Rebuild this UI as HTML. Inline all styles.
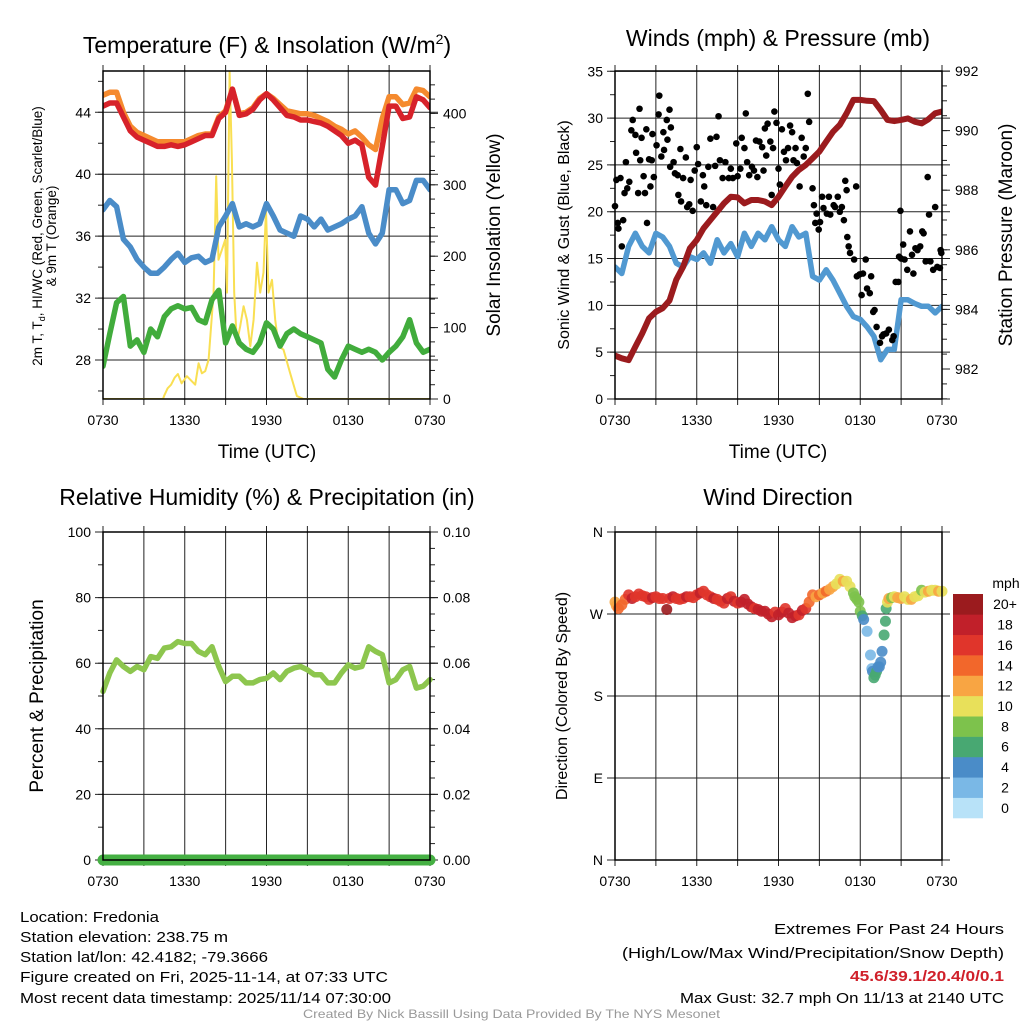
<!DOCTYPE html>
<html><head><meta charset="utf-8"><style>
html,body{margin:0;padding:0;background:#fff;}
svg{display:block;font-family:"Liberation Sans",sans-serif;}
</style></head><body>
<svg id="chart" width="1024" height="1024" viewBox="0 0 1024 1024" xmlns="http://www.w3.org/2000/svg">
<defs>
<clipPath id="c1"><rect x="103" y="71" width="327" height="328"/></clipPath>
<clipPath id="c2"><rect x="615" y="71" width="327" height="328"/></clipPath>
</defs>
<rect width="1024" height="1024" fill="#fff"/>
<g id="p1"></g>
<g id="p2"></g>
<g id="p3"></g>
<g id="p4"></g>

<text x="267" y="53" font-size="23" text-anchor="middle">Temperature (F) &amp; Insolation (W/m<tspan dy="-9" font-size="14">2</tspan><tspan dy="9">)</tspan></text>
<text x="778" y="46" font-size="23" text-anchor="middle">Winds (mph) &amp; Pressure (mb)</text>
<text x="267" y="505" font-size="23" text-anchor="middle">Relative Humidity (%) &amp; Precipitation (in)</text>
<text x="778" y="505" font-size="23" text-anchor="middle">Wind Direction</text>

<text x="267" y="458" font-size="19" text-anchor="middle">Time (UTC)</text>
<text x="778" y="458" font-size="19" text-anchor="middle">Time (UTC)</text>

<g transform="translate(42,236) rotate(-90)">
<text x="0" y="0" font-size="13.5" text-anchor="middle">2m T, T<tspan dy="3" font-size="9">d</tspan><tspan dy="-3">, HI/WC (Red, Green, Scarlet/Blue)</tspan></text>
<text x="0" y="14" font-size="13.5" text-anchor="middle">&amp; 9m T (Orange)</text>
</g>
<text transform="translate(500,235) rotate(-90)" font-size="19" text-anchor="middle">Solar Insolation (Yellow)</text>
<text transform="translate(569,235) rotate(-90)" font-size="16" text-anchor="middle">Sonic Wind &amp; Gust (Blue, Black)</text>
<text transform="translate(1012,235) rotate(-90)" font-size="19" text-anchor="middle">Station Pressure (Maroon)</text>
<text transform="translate(43,696) rotate(-90)" font-size="19" text-anchor="middle">Percent &amp; Precipitation</text>
<text transform="translate(567,696) rotate(-90)" font-size="16" text-anchor="middle">Direction (Colored By Speed)</text>

<g font-size="15">
<text x="20" y="922" textLength="139" lengthAdjust="spacingAndGlyphs">Location: Fredonia</text>
<text x="20" y="942" textLength="208" lengthAdjust="spacingAndGlyphs">Station elevation: 238.75 m</text>
<text x="20" y="962" textLength="248" lengthAdjust="spacingAndGlyphs">Station lat/lon: 42.4182; -79.3666</text>
<text x="20" y="982" textLength="368" lengthAdjust="spacingAndGlyphs">Figure created on Fri, 2025-11-14, at 07:33 UTC</text>
<text x="20" y="1003" textLength="371" lengthAdjust="spacingAndGlyphs">Most recent data timestamp: 2025/11/14 07:30:00</text>
</g>
<g font-size="15">
<text x="774" y="934" textLength="230" lengthAdjust="spacingAndGlyphs">Extremes For Past 24 Hours</text>
<text x="622" y="958" textLength="382" lengthAdjust="spacingAndGlyphs">(High/Low/Max Wind/Precipitation/Snow Depth)</text>
<text x="850" y="981" textLength="154" lengthAdjust="spacingAndGlyphs" fill="#d0202a" font-weight="bold">45.6/39.1/20.4/0/0.1</text>
<text x="680" y="1003" textLength="324" lengthAdjust="spacingAndGlyphs">Max Gust: 32.7 mph On 11/13 at 2140 UTC</text>
</g>
<text x="303" y="1018" font-size="12" fill="#999" textLength="417" lengthAdjust="spacingAndGlyphs">Created By Nick Bassill Using Data Provided By The NYS Mesonet</text>
</svg>
<script>
// ---------- data (hours since 0730 UTC, 30-minute samples) ----------
const xTickLabels = ["0730","1330","1930","0130","0730"];
const tempRed = [44.4,44.6,44.6,43.7,42.8,42.4,42.2,42.0,41.8,41.8,41.9,41.8,41.9,42.1,42.3,42.5,42.5,43.6,44.0,45.5,43.8,43.9,44.2,44.8,45.2,44.8,44.3,43.8,43.7,43.5,43.5,43.4,43.3,43.1,42.8,42.5,42.0,42.2,41.9,39.8,39.3,41.8,44.4,44.4,43.6,43.7,45.0,44.8,44.3];
const temp9m = [45.1,45.3,45.3,44.0,43.1,42.7,42.5,42.3,42.1,42.1,42.1,42.1,42.1,42.3,42.5,42.6,42.6,43.7,44.1,45.5,43.9,44.0,44.3,44.9,45.2,44.9,44.5,44.1,44.0,43.9,43.9,43.8,43.6,43.4,43.1,42.9,42.6,42.8,42.4,41.9,41.6,43.6,45.0,45.0,44.5,44.6,45.5,45.4,45.0];
const windChill = [37.7,38.3,37.9,35.8,35.3,34.5,34.0,33.6,33.6,34.0,34.5,34.9,34.3,34.6,34.7,34.3,34.5,36.6,37.3,38.1,36.6,36.8,36.6,36.8,38.1,37.3,36.4,36.2,36.0,37.3,37.1,36.6,37.1,36.4,36.6,36.8,37.1,37.3,37.9,36.2,35.5,36.2,39.0,39.0,38.1,38.3,39.6,39.6,39.0];
const dewPoint = [27.6,29.7,31.7,32.1,28.9,29.3,28.5,30.0,29.5,30.8,31.3,31.5,31.3,31.4,30.6,30.4,31.9,32.5,29.1,30.2,29.1,28.7,28.5,29.1,30.4,30.0,28.9,29.7,30.0,29.7,29.5,29.3,29.1,27.4,26.9,28.0,28.9,28.7,28.5,28.7,28.5,28.0,28.5,28.9,29.5,30.6,29.1,28.5,28.7];
const solarHours = [0,4.4,4.5,4.74,5.0,5.26,5.5,5.77,6.16,6.77,7.02,7.26,7.5,7.75,8.12,8.31,8.48,8.73,8.97,9.1,9.29,9.46,9.63,9.83,10.07,10.32,10.56,10.81,11.05,11.3,11.54,11.78,11.96,12.15,12.4,12.64,12.89,13.25,13.74,14.23,14.72,24];
const solarValues = [0,0,5,15,20,30,35,22,32,20,50,36,39,55,149,312,195,209,223,149,459,335,149,79,102,130,111,74,111,191,149,177,265,149,167,111,74,69,36,4,0,0];
const pressure = [982.45,982.36,982.3,982.75,983.2,983.7,983.92,984.04,984.3,985.0,985.43,986.05,986.33,986.72,987.0,987.28,987.56,987.78,987.76,987.56,987.67,987.67,987.62,987.5,987.78,988.12,988.45,988.68,988.85,989.07,989.3,989.63,989.96,990.19,990.58,991.03,991.03,991.0,990.99,990.69,990.36,990.32,990.36,990.41,990.3,990.24,990.38,990.58,990.64];
const windSpeed = [14.1,13.4,16.3,17.7,16.3,15.6,17.7,17.3,16.3,14.5,14.1,15.2,14.9,15.6,14.5,17.0,15.6,16.6,15.2,17.7,16.3,17.7,17.0,18.4,17.0,16.3,18.4,17.3,17.7,13.1,12.7,13.8,12.7,11.3,9.9,8.8,8.5,7.7,6.7,4.2,5.3,5.3,10.6,10.6,10.2,9.9,9.9,9.2,9.9];
const gustHours = [0,0.1,0.2,0.25,0.4,0.5,0.6,0.7,0.8,0.9,1.05,1.3,1.2,1.5,1.55,1.7,1.8,1.85,1.95,2.1,2.2,2.3,2.35,2.5,2.6,2.7,2.75,2.85,3.05,3.2,3.25,3.4,3.55,3.6,3.8,3.85,4.0,4.05,4.1,4.3,4.4,4.6,4.65,4.8,4.85,5.0,5.2,5.3,5.45,5.55,5.7,5.85,6.0,6.1,6.3,6.45,6.55,6.7,6.85,7.0,7.2,7.35,7.45,7.6,7.7,7.9,8.1,8.35,8.5,8.65,8.9,9.0,9.2,9.3,9.5,9.6,9.7,9.85,10.05,10.2,10.35,10.45,10.6,10.8,10.9,11.0,11.1,11.2,11.4,11.5,11.6,11.7,11.85,12.0,12.1,12.25,12.4,12.55,12.7,12.85,13.0,13.1,13.25,13.35,13.55,13.7,13.85,14.0,14.15,14.25,14.5,14.6,14.7,14.8,14.95,15.05,15.2,15.3,15.55,15.7,15.8,16.05,16.15,16.35,16.5,16.65,16.8,16.9,17.0,17.05,17.15,17.25,17.55,17.7,17.75,17.95,18.1,18.2,18.4,18.5,18.7,18.8,18.95,19.05,19.2,19.45,19.6,19.7,19.9,20.1,20.35,20.45,20.6,20.8,20.95,20.85,21.0,21.15,21.25,21.45,21.65,21.8,21.9,22.05,22.2,22.4,22.55,22.65,22.8,22.95,23.05,23.15,23.35,23.5,23.65,23.85,23.9,23.95];
const gustValues = [20.6,23.4,18.8,18.2,23.6,16.3,19.1,22.0,25.3,22.5,23.2,29.8,28.7,28.2,26.3,22.0,31.0,25.5,27.9,23.8,22.0,28.8,18.8,25.6,22.7,25.5,28.3,23.7,27.1,30.4,32.4,25.9,28.5,26.6,29.8,27.7,30.9,24.8,29.0,25.3,24.1,23.9,21.8,26.7,21.1,23.6,25.8,20.5,20.8,23.4,20.1,24.4,26.9,25.1,21.1,23.9,22.7,20.7,24.8,27.8,20.5,24.9,28.0,30.2,25.5,23.6,25.3,23.6,24.6,23.6,27.3,23.8,24.6,27.9,26.8,30.5,25.3,23.9,24.8,24.4,27.6,23.7,27.5,26.9,24.4,28.9,26.0,29.4,27.5,21.8,26.8,30.7,29.5,24.6,22.9,28.8,26.4,25.5,26.8,29.2,28.5,25.5,26.8,25.2,22.7,27.9,25.9,26.8,32.6,29.6,22.5,20.7,18.8,19.8,18.1,18.9,21.6,20.4,19.8,21.6,19.7,20.7,20.5,21.6,20.0,20.5,19.1,23.3,22.3,17.3,16.3,15.6,14.9,22.7,13.1,13.3,11.1,13.4,14.9,11.8,11.3,13.1,9.3,9.5,7.7,6.0,6.7,6.9,7.0,7.4,6.3,6.7,12.5,12.5,20.1,15.2,15.0,16.5,14.9,13.8,17.9,15.4,13.4,16.1,15.9,16.3,17.9,17.7,14.7,23.7,19.7,14.7,13.8,20.5,14.1,14.0,15.9,15.6];
const humidity = [51.4,57,61,59,57.5,59,58,62,61.5,64.6,65,66.6,66,66,63.6,62.6,65,59,54.4,56,56,54,54,55,55.4,57,55,57.5,58.5,59,58,56.5,56.5,54,54,57,59.5,58.5,59,65,63.6,62.6,54,55,58,59,52.4,53,55];
const precip = [0,0,0,0,0,0,0,0,0,0,0,0,0,0,0,0,0,0,0,0,0,0,0,0,0,0,0,0,0,0,0,0,0,0,0,0,0,0,0,0,0,0,0,0,0,0,0,0,0];
const dirHours = [0,0.1,0.25,0.5,0.75,1.0,1.25,1.5,1.75,2.0,2.25,2.5,2.75,3.0,3.25,3.5,3.8,4.0,4.25,4.5,4.75,5.0,5.25,5.5,5.75,6.0,6.25,6.5,6.75,7.0,7.25,7.5,7.75,8.0,8.25,8.5,8.75,9.0,9.25,9.5,9.75,10.0,10.25,10.5,10.75,11.0,11.25,11.5,11.75,12.0,12.25,12.5,12.75,13.0,13.25,13.5,13.75,14.0,14.25,14.5,14.75,15.0,15.25,15.5,15.75,16.0,16.25,16.5,16.75,17.0,17.25,17.5,17.6,17.75,17.9,18.0,18.15,18.25,18.5,18.75,18.85,18.9,19.0,19.1,19.2,19.3,19.4,19.5,19.6,19.75,19.85,19.9,20.0,20.1,20.3,20.5,20.75,21.0,21.25,21.5,21.75,22.0,22.25,22.5,22.75,23.0,23.25,23.5,23.75,24.0];
const dirValues = [283,279,276,280,286,291,287,289,292,290,289,286,288,289,287,287,275,287,289,287,286,287,289,289,288,291,293,295,291,289,287,286,284,282,287,289,284,282,283,286,281,278,276,275,273,273,270,267,272,269,272,276,271,266,268,269,274,276,283,291,289,291,293,295,297,300,303,308,306,306,300,293,289,286,283,273,268,264,251,225,210,207,200,203,207,212,212,217,229,247,262,276,283,287,288,289,288,287,289,286,286,289,290,296,294,295,296,296,295,295];
const dirSpeed = [13,12,14,14,15,16,18,17,16,17,16,17,18,17,16,17,20,17,18,17,16,17,18,17,16,17,18,17,16,17,18,17,16,17,18,17,18,17,18,18,19,18,17,18,19,18,19,18,17,19,18,17,18,19,18,17,18,16,15,14,13,14,13,14,12,12,11,10,12,11,10,8,8,9,8,8,7,4,2,2,3,4,6,6,6,5,4,4,4,6,6,7,10,12,9,10,12,12,11,10,12,10,11,9,10,12,11,10,12,11];
const speedBins = ["0","2","4","6","8","10","12","14","16","18","20+"];
const binColors = ["#b8e2f8","#7ab8e6","#4a8cc8","#48a872","#7dc24c","#e8e05a","#f8a543","#f2672b","#e0352b","#c1202a","#9b1b1e"];

const NS="http://www.w3.org/2000/svg";
function mk(parent,tag,attrs){const e=document.createElementNS(NS,tag);for(const k in attrs)e.setAttribute(k,attrs[k]);parent.appendChild(e);return e;}
function lin(d0,d1,r0,r1){return v=>r0+(v-d0)*(r1-r0)/(d1-d0);}
function halfHours(n){const a=[];for(let i=0;i<n;i++)a.push(i*0.5);return a;}
const hh = halfHours(49);

function frame(g,L,R,T,B,leftTicks,leftMinor,yl,rightTicks,rightMinor,yr,lFmt,rFmt){
  const xs=lin(0,24,L,R);
  for(let h=3;h<24;h+=3){const l=mk(g,'line',{x1:xs(h),x2:xs(h),y1:T,y2:B,stroke:'#222','stroke-width':1});}
  leftTicks.forEach(v=>{const y=yl(v);const l=mk(g,'line',{x1:L-8,x2:R+8,y1:y,y2:y,stroke:'#222','stroke-width':1});
    const t=mk(g,'text',{x:L-12,y:y+5,'font-size':14,'text-anchor':'end'});t.textContent=lFmt(v);});
  leftMinor.forEach(v=>{const y=yl(v);mk(g,'line',{x1:L-5,x2:L,y1:y,y2:y,stroke:'#222','stroke-width':1});});
  if(rightTicks){rightTicks.forEach(v=>{const y=yr(v);mk(g,'line',{x1:R,x2:R+8,y1:y,y2:y,stroke:'#222','stroke-width':1});
    const t=mk(g,'text',{x:R+13,y:y+5,'font-size':14,'text-anchor':'start'});t.textContent=rFmt(v);});
    rightMinor.forEach(v=>{const y=yr(v);mk(g,'line',{x1:R,x2:R+5,y1:y,y2:y,stroke:'#222','stroke-width':1});});}
  for(let h=0;h<=24;h+=3){const x=xs(h);mk(g,'line',{x1:x,x2:x,y1:B,y2:B+6,stroke:'#222','stroke-width':1});mk(g,'line',{x1:x,x2:x,y1:T-6,y2:T,stroke:'#222','stroke-width':1});}
  xTickLabels.forEach((s,i)=>{const t=mk(g,'text',{x:xs(i*6),y:B+26,'font-size':14,'text-anchor':'middle'});t.textContent=s;});
  return xs;
}
function border(g,L,R,T,B){const r=mk(g,'rect',{x:L,y:T,width:R-L,height:B-T,fill:'none',stroke:'#000','stroke-width':1.5});}
function path(g,xs,ys,xv,yv,color,w){let d='';xv.forEach((x,i)=>{d+=(i?'L':'M')+xs(x).toFixed(1)+','+ys(yv[i]).toFixed(1);});return mk(g,'path',{d:d,fill:'none',stroke:color,'stroke-width':w,'stroke-linejoin':'round','stroke-linecap':'round'});}
function range(a,b,s){const r=[];for(let v=a;v<=b+1e-9;v+=s)r.push(+v.toFixed(4));return r;}

// Panel 1
(function(){const g=document.getElementById('p1');const L=103,R=430,T=71,B=399;
 const yl=lin(28,44,360,112.3), yr=lin(0,400,399,113.4);
 const xs=frame(g,L,R,T,B,[28,32,36,40,44],range(26,46,2),yl,[0,100,200,300,400],range(0,440,20),yr,v=>v,v=>v);
 const cg=mk(g,'g',{'clip-path':'url(#c1)'});
 const ys=path(cg,xs,yr,solarHours,solarValues,'#f9df52',2);
 const gd=path(cg,xs,yl,hh,dewPoint,'#41ac3c',5.5);
 const gw=path(cg,xs,yl,hh,windChill,'#4a8cc8',5.5);
 const go=path(cg,xs,yl,hh,temp9m,'#f58a2e',5.5);
 const gr=path(cg,xs,yl,hh,tempRed,'#d7222a',5.5);
 border(g,L,R,T,B);})();

// Panel 2
(function(){const g=document.getElementById('p2');const L=615,R=942,T=71,B=399;
 const yl=lin(0,35,399,71.3), yr=lin(982,992,369,71);
 const xs=frame(g,L,R,T,B,[0,5,10,15,20,25,30,35],range(0,35,2.5),yl,[982,984,986,988,990,992],range(981,992,0.5),yr,v=>v,v=>v);
 const cg=mk(g,'g',{'clip-path':'url(#c2)'});
 const w=path(cg,xs,yl,hh,windSpeed,'#5199d1',5.5);
 gustHours.forEach((h,i)=>{const c=mk(g,'circle',{cx:xs(h),cy:yl(gustValues[i]),r:3.3,fill:'#000'});
  
  });
 const p=path(cg,xs,yr,hh,pressure,'#9b1b1e',6);
 border(g,L,R,T,B);})();

// Panel 3
(function(){const g=document.getElementById('p3');const L=103,R=430,T=532,B=860;
 const yl=lin(0,100,860,532), yr=lin(0,0.1,860,532);
 const xs=frame(g,L,R,T,B,[0,20,40,60,80,100],range(0,100,10),yl,[0,0.02,0.04,0.06,0.08,0.1],range(0,0.1,0.005),yr,v=>v,v=>v.toFixed(2));
 const h=path(g,xs,yl,hh,humidity,'#8dc64e',5.5);
 const p=path(g,xs,yr,hh,precip,'#45b043',11);
 border(g,L,R,T,B);})();

// Panel 4
(function(){const g=document.getElementById('p4');const L=615,R=942,T=532,B=860;
 const yl=lin(0,360,860,532);const names={0:'N',90:'E',180:'S',270:'W',360:'N'};
 const xs=frame(g,L,R,T,B,[0,90,180,270,360],[],yl,null,null,null,v=>names[v],null);
 dirHours.forEach((h,i)=>{const b=Math.min(10,Math.floor(dirSpeed[i]/2));
  const c=mk(g,'circle',{cx:xs(h),cy:yl(dirValues[i]),r:5.5,fill:binColors[b],'fill-opacity':0.9});
  
  });
 border(g,L,R,T,B);
 const lg=mk(g,'g',{});
 const t=mk(lg,'text',{x:1006,y:588,'font-size':14,'text-anchor':'middle'});t.textContent='mph';
 const bh=224/11;
 speedBins.forEach((s,i)=>{const y=818-(i+1)*bh;
  const r=mk(lg,'rect',{x:953,y:y,width:30,height:bh+0.3,fill:binColors[i]});
  
  
  const tx=mk(lg,'text',{x:1005,y:y+bh/2+5,'font-size':14,'text-anchor':'middle'});tx.textContent=s;
  
  });
})();
</script>
</body></html>
